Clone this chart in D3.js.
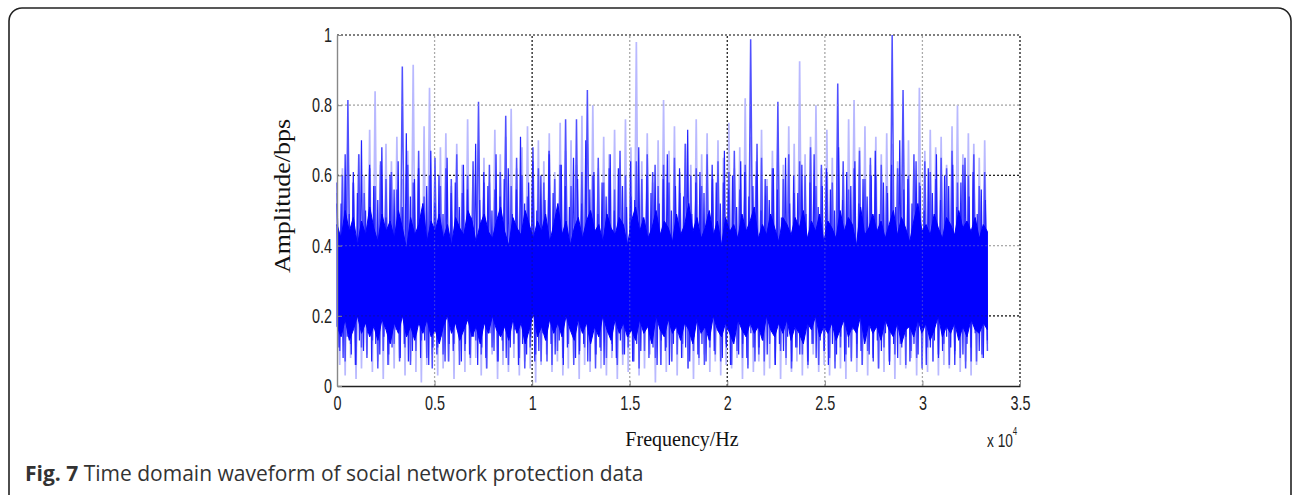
<!DOCTYPE html>
<html>
<head>
<meta charset="utf-8">
<script src="https://d3js.org/d3.v7.min.js"></script>
<style>
  body { margin: 0; background: #fff; }
  svg { display: block; }
</style>
</head>
<body>
<svg id="chart" width="1295" height="495"></svg>
<script>
// signal samples (x spans 0 .. 3.33e4 Hz)
var xEnd = 33330;

// faint outer spikes and deep troughs
var lightSeries = [
  .55,.06, .62,.03, .70,.08, .58,.02, .66,.05, .60,.09, .73,.04, .84,.07, .63,.02, .69,.06,
  .64,.05, .71,.08, .59,.03, .67,.07, .915,.04, .62,.01, .74,.06, .85,.09, .61,.03, .68,.05,
  .72,.07, .57,.02, .69,.10, .63,.04, .76,.06, .60,.08, .70,.03, .65,.05, .58,.09, .73,.02,
  .66,.06, .71,.04, .79,.08, .62,.03, .68,.07, .74,.05, .59,.01, .70,.06, .64,.09, .72,.04,
  .61,.07, .75,.03, .67,.05, .70,.08, .63,.02, .77,.06, .69,.04, .80,.09, .62,.05, .71,.03,
  .66,.08, .73,.02, .60,.06, .76,.04, .68,.07, .98,.03, .64,.05, .72,.09, .58,.01, .70,.06,
  .815,.04, .67,.07, .74,.03, .61,.08, .69,.05, .63,.02, .76,.06, .66,.09, .72,.04, .60,.07,
  .70,.03, .65,.06, .75,.05, .62,.08, .68,.02, .82,.06, .71,.04, .64,.07, .73,.03, .59,.05,
  .67,.08, .72,.02, .63,.06, .74,.04, .69,.07, .925,.03, .66,.05, .71,.09, .80,.04, .62,.06,
  .73,.03, .65,.07, .70,.05, .61,.02, .76,.08, .815,.04, .68,.06, .74,.03, .63,.09, .71,.05,
  .66,.04, .72,.07, .69,.02, .64,.06, .75,.05, .70,.08, .62,.03, .85,.06, .67,.04, .73,.07,
  .68,.03, .71,.06, .63,.05, .74,.09, .80,.04, .66,.07, .72,.03, .69,.06, .65,.08, .70,.12
];

// main spikes
var midSeries = [
  .52,.10, .60,.07, .815,.12, .58,.06, .66,.11, .55,.08, .62,.13, .57,.05, .64,.10, .59,.09,
  .61,.12, .56,.07, .91,.11, .63,.06, .58,.10, .67,.13, .54,.08, .60,.05, .65,.11, .57,.09,
  .62,.07, .59,.12, .66,.06, .55,.10, .60,.08, .64,.13, .81,.09, .58,.05, .63,.11, .56,.07,
  .61,.10, .77,.06, .57,.12, .65,.08, .60,.05, .54,.11, .68,.09, .62,.07, .58,.13, .66,.06,
  .59,.10, .63,.08, .76,.12, .57,.06, .76,.09, .61,.11, .843,.07, .60,.05, .65,.10, .58,.08,
  .62,.12, .56,.06, .67,.09, .60,.11, .54,.07, .64,.05, .59,.10, .66,.13, .61,.08, .57,.06,
  .63,.11, .58,.07, .65,.09, .55,.12, .69,.05, .60,.10, .62,.08, .57,.06, .66,.11, .59,.09,
  .64,.07, .58,.12, .61,.06, .67,.10, .56,.08, .63,.05, .988,.11, .60,.09, .65,.07, .57,.12,
  .62,.06, .81,.10, .59,.08, .66,.05, .55,.11, .64,.09, .60,.07, .68,.12, .57,.06, .63,.10,
  .61,.08, .58,.05, .862,.11, .64,.09, .56,.07, .62,.12, .67,.06, .59,.10, .65,.08, .60,.05,
  .63,.11, .57,.07, 1.0,.09, .62,.12, .843,.06, .60,.10, .66,.08, .58,.05, .64,.11, .61,.07,
  .59,.09, .65,.12, .62,.06, .67,.10, .58,.08, .63,.05, .60,.11, .66,.07, .57,.09, .61,.10
];

// ragged dark edge around the core
var edgeSeries = [
  .58,.11, .52,.08, .66,.14, .49,.09, .61,.06, .55,.13, .70,.10, .50,.15, .63,.07, .57,.12,
  .53,.09, .68,.14, .48,.06, .60,.11, .56,.16, .64,.08, .51,.12, .72,.07, .54,.10, .59,.15,
  .62,.08, .50,.13, .57,.06, .67,.11, .52,.09, .60,.14, .49,.07, .65,.12, .55,.10, .58,.16,
  .51,.07, .63,.12, .56,.09, .48,.14, .69,.06, .53,.11, .61,.08, .57,.15, .50,.10, .66,.07,
  .54,.13, .59,.08, .62,.11, .49,.16, .56,.06, .71,.12, .52,.09, .58,.14, .64,.07, .50,.10,
  .60,.15, .53,.07, .67,.12, .55,.09, .48,.13, .63,.06, .57,.11, .51,.16, .65,.08, .59,.10,
  .52,.12, .70,.07, .56,.14, .61,.09, .49,.11, .58,.06, .54,.15, .66,.10, .50,.08, .62,.13,
  .57,.09, .51,.14, .64,.07, .53,.12, .68,.10, .48,.16, .60,.08, .55,.11, .63,.06, .52,.13,
  .59,.10, .66,.06, .50,.12, .57,.15, .62,.08, .54,.11, .73,.07, .49,.14, .58,.09, .61,.12,
  .55,.07, .49,.13, .63,.10, .58,.16, .52,.08, .67,.11, .56,.06, .60,.14, .51,.09, .64,.12,
  .61,.08, .54,.15, .57,.07, .69,.11, .50,.13, .59,.09, .53,.16, .62,.06, .56,.12, .48,.10,
  .65,.14, .52,.07, .60,.11, .55,.09, .63,.15, .49,.06, .58,.12, .66,.08, .51,.13, .57,.10,
  .62,.06, .56,.12, .50,.09, .68,.14, .53,.07, .61,.11, .57,.16, .64,.08, .52,.10, .59,.13,
  .54,.09, .60,.07, .67,.13, .49,.10, .58,.15, .55,.06, .63,.12, .51,.08, .70,.11, .56,.14,
  .59,.07, .52,.12, .64,.09, .57,.15, .50,.06, .62,.11, .55,.13, .66,.08, .53,.10, .60,.14,
  .57,.11, .63,.06, .51,.14, .58,.09, .65,.12, .54,.07, .61,.15, .49,.10, .56,.08, .53,.13
];

// dense core of the band, as (top, bottom) pairs
var coreSeries = [
  .46,.17, .42,.14, .50,.19, .44,.13, .48,.16, .40,.20, .47,.15, .43,.18, .51,.14, .45,.17,
  .41,.13, .49,.19, .44,.16, .47,.12, .42,.18, .50,.15, .45,.20, .39,.14, .48,.17, .43,.13,
  .46,.18, .52,.15, .41,.19, .47,.14, .44,.16, .49,.12, .42,.17, .46,.20, .40,.15, .48,.18,
  .45,.13, .43,.16, .50,.19, .47,.14, .41,.17, .46,.12, .49,.18, .44,.15, .42,.20, .47,.16,
  .51,.14, .44,.17, .40,.13, .48,.19, .45,.15, .43,.18, .50,.12, .46,.16, .42,.21, .47,.14,
  .44,.17, .49,.13, .41,.19, .46,.15, .52,.18, .43,.14, .47,.20, .40,.16, .45,.13, .48,.19,
  .42,.15, .47,.18, .50,.12, .44,.17, .46,.14, .41,.20, .49,.16, .45,.13, .43,.19, .48,.15,
  .46,.18, .40,.14, .47,.16, .51,.13, .44,.19, .48,.15, .42,.17, .45,.12, .50,.20, .43,.16,
  .47,.14, .45,.19, .41,.15, .49,.17, .43,.13, .46,.18, .52,.16, .44,.12, .48,.19, .42,.15,
  .45,.17, .50,.13, .43,.20, .47,.16, .40,.14, .48,.18, .44,.15, .46,.12, .42,.19, .49,.16,
  .44,.14, .47,.18, .51,.15, .42,.17, .46,.13, .43,.20, .49,.16, .45,.14, .41,.18, .48,.15,
  .46,.19, .43,.13, .48,.17, .45,.15, .50,.12, .42,.18, .47,.16, .44,.20, .49,.14, .41,.17,
  .47,.15, .45,.18, .42,.13, .50,.16, .44,.19, .48,.14, .46,.17, .40,.15, .51,.20, .43,.12,
  .45,.18, .49,.15, .44,.17, .47,.13, .42,.19, .46,.16, .50,.14, .43,.18, .48,.12, .45,.16,
  .41,.17, .47,.14, .52,.19, .44,.15, .46,.18, .43,.13, .49,.16, .45,.20, .42,.14, .48,.17,
  .46,.15, .43,.18, .50,.13, .45,.17, .47,.14, .44,.19, .48,.16, .42,.15, .46,.18, .44,.16
];

var xTicks = [0, 5000, 10000, 15000, 20000, 25000, 30000, 35000];
var xTickLabels = ["0", "0.5", "1", "1.5", "2", "2.5", "3", "3.5"];
var yTicks = [0, 0.2, 0.4, 0.6, 0.8, 1];
var yTickLabels = ["0", "0.2", "0.4", "0.6", "0.8", "1"];
// MATLAB grid: some lines come out dark, some grey
var xGridDark = [10000, 20000, 35000];
var yGridDark = [0.2, 0.6, 1];

var svg = d3.select("#chart");

var x = d3.scaleLinear().domain([0, 35000]).range([337, 1020]);
var y = d3.scaleLinear().domain([0, 1]).range([386, 35]);

// figure frame
svg.append("rect")
  .attr("x", 9).attr("y", 8)
  .attr("width", 1282).attr("height", 520)
  .attr("rx", 13).attr("ry", 13)
  .attr("fill", "none")
  .attr("stroke", "#222")
  .attr("stroke-width", 1.6);

function drawGrid(g, op) {
  g.selectAll("line.gx")
    .data(xTicks.slice(1))
    .enter().append("line")
      .attr("class", "gx")
      .attr("x1", function(d) { return x(d); })
      .attr("x2", function(d) { return x(d); })
      .attr("y1", y(0)).attr("y2", y(1))
      .attr("stroke", function(d) { return xGridDark.indexOf(d) >= 0 ? "#222" : "#aaa"; })
      .attr("stroke-dasharray", "2,2")
      .attr("stroke-width", 1.2)
      .attr("opacity", op);
  g.selectAll("line.gy")
    .data(yTicks.slice(1))
    .enter().append("line")
      .attr("class", "gy")
      .attr("y1", function(d) { return y(d); })
      .attr("y2", function(d) { return y(d); })
      .attr("x1", x(0)).attr("x2", x(35000))
      .attr("stroke", function(d) { return yGridDark.indexOf(d) >= 0 ? "#222" : "#aaa"; })
      .attr("stroke-dasharray", "2,2")
      .attr("stroke-width", 1.2)
      .attr("opacity", op);
}

drawGrid(svg.append("g"), 1);

function seriesLine(vals) {
  var step = xEnd / (vals.length - 1);
  return d3.line()
    .x(function(d, i) { return x(i * step); })
    .y(function(d) { return y(d); })(vals);
}

svg.append("path")
  .attr("d", seriesLine(lightSeries))
  .attr("fill", "none")
  .attr("stroke", "#b9b9ff")
  .attr("stroke-width", 1.7);

svg.append("path")
  .attr("d", seriesLine(midSeries))
  .attr("fill", "none")
  .attr("stroke", "#5050ff")
  .attr("stroke-width", 1.5);

svg.append("path")
  .attr("d", seriesLine(edgeSeries))
  .attr("fill", "none")
  .attr("stroke", "#2222ff")
  .attr("stroke-width", 1.2);

// core band filled between each pair's top and bottom value
var corePairs = d3.range(coreSeries.length / 2).map(function(k) {
  return { hi: coreSeries[2 * k], lo: coreSeries[2 * k + 1] };
});
var pairStep = xEnd / (corePairs.length - 1);
svg.append("path")
  .attr("d", d3.area()
    .x(function(d, i) { return x(i * pairStep); })
    .y0(function(d) { return y(d.lo); })
    .y1(function(d) { return y(d.hi); })(corePairs))
  .attr("fill", "#0000ff")
  .attr("stroke", "#0000ff")
  .attr("stroke-width", 1);

// grid shows faintly through the band
drawGrid(svg.append("g"), 0.3);

// axes
var tickFont = "'Liberation Sans', Arial, sans-serif";
var squeeze = "scale(0.72,1)";

var xAxis = svg.append("g")
  .attr("transform", "translate(0," + y(0) + ")")
  .call(d3.axisBottom(x).tickValues(xTicks)
    .tickFormat(function(d, i) { return xTickLabels[i]; })
    .tickSize(-5).tickSizeOuter(0).tickPadding(10));
xAxis.select(".domain").attr("stroke", "#222").attr("stroke-width", 1.6);
xAxis.selectAll(".tick line").attr("stroke", "#888");
xAxis.selectAll("text")
  .attr("font-family", tickFont).attr("font-size", 20).attr("fill", "#222")
  .attr("transform", squeeze);

var yAxis = svg.append("g")
  .attr("transform", "translate(" + x(0) + ",0)")
  .call(d3.axisLeft(y).tickValues(yTicks)
    .tickFormat(function(d, i) { return yTickLabels[i]; })
    .tickSize(-5).tickSizeOuter(0).tickPadding(7));
yAxis.select(".domain").attr("stroke", "#888").attr("stroke-width", 1.4);
yAxis.selectAll(".tick line").attr("stroke", "#888");
yAxis.selectAll("text")
  .attr("font-family", tickFont).attr("font-size", 20).attr("fill", "#222")
  .attr("transform", squeeze);

// exponent
var expo = svg.append("g")
  .attr("transform", "translate(987,447) " + squeeze)
  .append("text")
  .attr("font-family", tickFont).attr("font-size", 19).attr("fill", "#222");
expo.append("tspan").text("x 10");
expo.append("tspan").attr("dy", -12).attr("font-size", 11).text("4");

// axis titles
svg.append("text")
  .attr("x", 682).attr("y", 446)
  .attr("text-anchor", "middle")
  .attr("font-family", "'Liberation Serif', 'Times New Roman', serif")
  .attr("font-size", 20).attr("fill", "#111")
  .text("Frequency/Hz");

svg.append("text")
  .attr("transform", "translate(290,196) rotate(-90) scale(1.08,1)")
  .attr("text-anchor", "middle")
  .attr("font-family", "'Liberation Serif', 'Times New Roman', serif")
  .attr("font-size", 24).attr("fill", "#111")
  .text("Amplitude/bps");

// caption
var cap = svg.append("text")
  .attr("x", 25).attr("y", 481)
  .attr("font-family", "'Open Sans', 'Noto Sans', sans-serif")
  .attr("font-size", 21).attr("fill", "#333");
cap.append("tspan").attr("font-weight", "bold").text("Fig. 7");
cap.append("tspan").text(" Time domain waveform of social network protection data");
</script>
</body>
</html>
